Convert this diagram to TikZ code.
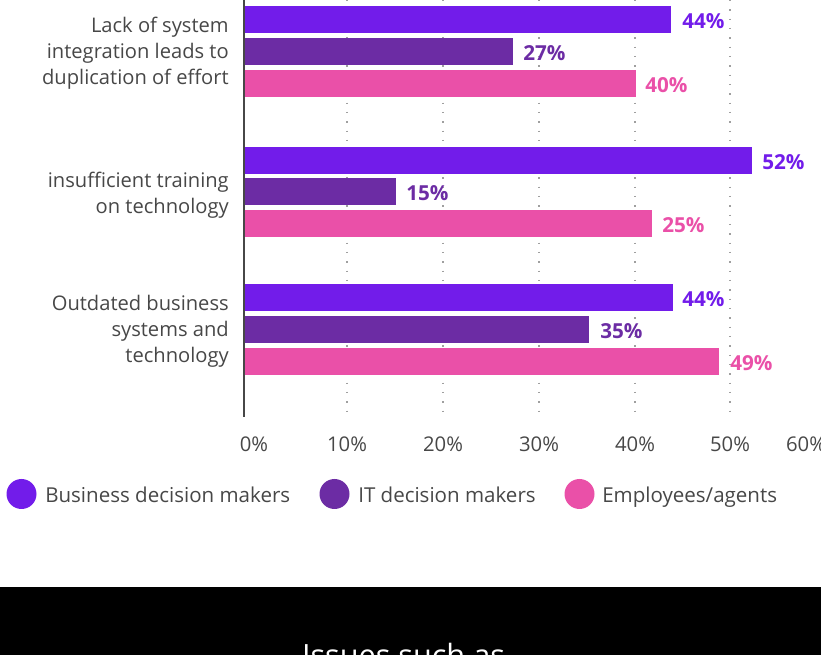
\documentclass[tikz,border=0pt]{standalone}
\usepackage{fontspec}
\setmainfont{Open Sans}
\definecolor{bizviolet}{HTML}{721CEA}
\definecolor{itpurple}{HTML}{6C2CA4}
\definecolor{emppink}{HTML}{EA50A8}
\definecolor{labelgray}{HTML}{474747}

\begin{document}
\begin{tikzpicture}[x=0.75pt,y=-0.75pt]
\tikzstyle{every node}+=[inner sep=0pt]
\tikzstyle{catlabel}=[anchor=east,align=right,text=labelgray,font=\fontsize{15.1}{19.5}\selectfont]
\tikzstyle{vallabel}=[anchor=west,font=\fontsize{15.5}{18}\selectfont\bfseries]
\tikzstyle{ticklabel}=[anchor=base,text=labelgray,font=\fontsize{15.2}{18}\selectfont]
\tikzstyle{legendlabel}=[anchor=base west,text=labelgray,font=\fontsize{15.4}{18}\selectfont]
\tikzstyle{legenddot}=[circle,minimum size=22.5pt]
\tikzstyle{gridline}=[gray!75,line width=1.1pt,dash pattern=on 1.1pt off 5.9pt]
\clip (0,0) rectangle (821,655);
\draw [gridline] (347,0) -- (347,417);
\draw [gridline] (443,0) -- (443,417);
\draw [gridline] (539,0) -- (539,417);
\draw [gridline] (635,0) -- (635,417);
\draw [gridline] (730,0) -- (730,417);
\fill [bizviolet] (245,6) rectangle (671,33);
\fill [itpurple] (245,38) rectangle (513,65);
\fill [emppink] (245,70) rectangle (636,97);
\fill [bizviolet] (245,147) rectangle (752,174);
\fill [itpurple] (245,178) rectangle (396,205);
\fill [emppink] (245,210) rectangle (652,237);
\fill [bizviolet] (245,284) rectangle (673,311);
\fill [itpurple] (245,316) rectangle (589,343);
\fill [emppink] (245,348) rectangle (719,375);
\draw [labelgray,line width=1.5pt] (244,0) -- (244,417);
\node [catlabel] (lackint) at (229,53.5) {Lack of system\\integration leads to\\duplication of effort};
\node [catlabel] (training) at (229,195) {insufficient training\\on technology};
\node [catlabel] (outdated) at (229,331.5) {Outdated business\\systems and\\technology};
\node [vallabel,text=bizviolet] (lackbiz) at (682,21.5) {44\%};
\node [vallabel,text=itpurple] (lackit) at (523,53.5) {27\%};
\node [vallabel,text=emppink] (lackemp) at (645,85.5) {40\%};
\node [vallabel,text=bizviolet] (trainbiz) at (762,162.5) {52\%};
\node [vallabel,text=itpurple] (trainit) at (406,193.5) {15\%};
\node [vallabel,text=emppink] (trainemp) at (662,225.5) {25\%};
\node [vallabel,text=bizviolet] (outbiz) at (682,299.5) {44\%};
\node [vallabel,text=itpurple] (outit) at (600,331.5) {35\%};
\node [vallabel,text=emppink] (outemp) at (730,363.5) {49\%};
\node [ticklabel] (tick0) at (254,452) {0\%};
\node [ticklabel] (tick10) at (347,452) {10\%};
\node [ticklabel] (tick20) at (443,452) {20\%};
\node [ticklabel] (tick30) at (539,452) {30\%};
\node [ticklabel] (tick40) at (635,452) {40\%};
\node [ticklabel] (tick50) at (730,452) {50\%};
\node [ticklabel] (tick60) at (806,452) {60\%};
\node [legenddot,fill=bizviolet] (dotbiz) at (21.5,494) {};
\node [legendlabel] (legbiz) at (45,503) {Business decision makers};
\node [legenddot,fill=itpurple] (dotit) at (334.5,494) {};
\node [legendlabel] (legit) at (358,503) {IT decision makers};
\node [legenddot,fill=emppink] (dotemp) at (579.5,494) {};
\node [legendlabel] (legemp) at (602,503) {Employees/agents};
\fill [black] (0,587) rectangle (821,655);
\node [anchor=base,text=white,font=\fontsize{23}{28}\selectfont] (issues) at (403.5,666) {Issues such as};
\end{tikzpicture}
\end{document}
